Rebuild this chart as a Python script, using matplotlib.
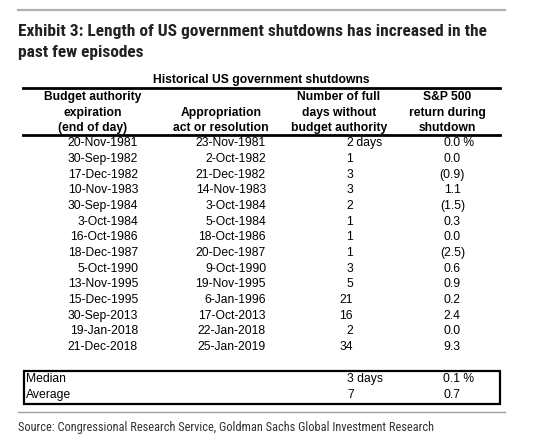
#!/usr/bin/env python
import matplotlib
matplotlib.use("Agg")
import matplotlib.pyplot as plt
from matplotlib.patches import Rectangle

title = "Exhibit 3: Length of US government shutdowns has increased in the\npast few episodes"
table_title = "Historical US government shutdowns"
headers = [
    ["Budget authority", "expiration", "(end of day)"],
    ["", "Appropriation", "act or resolution"],
    ["Number of full", "days without", "budget authority"],
    ["S&P 500", "return during", "shutdown"],
]
expiry = ["20-Nov-1981", "30-Sep-1982", "17-Dec-1982", "10-Nov-1983", "30-Sep-1984",
          "3-Oct-1984", "16-Oct-1986", "18-Dec-1987", "5-Oct-1990", "13-Nov-1995",
          "15-Dec-1995", "30-Sep-2013", "19-Jan-2018", "21-Dec-2018"]
approp = ["23-Nov-1981", "2-Oct-1982", "21-Dec-1982", "14-Nov-1983", "3-Oct-1984",
          "5-Oct-1984", "18-Oct-1986", "20-Dec-1987", "9-Oct-1990", "19-Nov-1995",
          "6-Jan-1996", "17-Oct-2013", "22-Jan-2018", "25-Jan-2019"]
days = [2, 1, 3, 3, 2, 1, 1, 1, 3, 5, 21, 16, 2, 34]
spx_ret = [0.0, 0.0, -0.9, 1.1, -1.5, 0.3, 0.0, -2.5, 0.6, 0.9, 0.2, 2.4, 0.0, 9.3]
summary_labels = ["Median", "Average"]
summary_days = [3, 7]
summary_ret = [0.1, 0.7]
source = "Source: Congressional Research Service, Goldman Sachs Global Investment Research"

narrow = ["Roboto Condensed", "DejaVu Sans"]
arial = ["Liberation Sans", "DejaVu Sans"]
fs = 8.7

fig = plt.figure(figsize=(5.45, 4.44), dpi=100)
ax = fig.add_axes([0, 0, 1, 1])
ax.set_xlim(0, 545)
ax.set_ylim(444, 0)
ax.axis("off")

# rules
ax.plot([18, 505], [10, 10], color="#b0b0b0", lw=1.6)
ax.plot([23, 500], [88, 88], color="black", lw=2)
ax.plot([23, 500], [135, 135], color="black", lw=2)
ax.plot([18, 505], [412, 412], color="#a0a0a0", lw=1)

ax.text(18, 42, title, family=narrow, fontweight="bold", fontsize=12.5,
        color="#222222", va="center", ha="left", linespacing=1.5)
ax.text(261, 80, table_title, family=arial, fontweight="bold", fontsize=fs,
        ha="center", va="center")

col_centers = [93, 221, 339, 447]
for cx, lines in zip(col_centers, headers):
    for j, line in enumerate(lines):
        ax.text(cx, 97 + j * 15.5, line, family=arial, fontweight="bold",
                fontsize=fs, ha="center", va="center")

row0, dy = 143.3, 15.67
for i in range(len(expiry)):
    y = row0 + i * dy
    kw = dict(family=arial, fontsize=fs, va="center")
    ax.text(138, y, expiry[i], ha="right", **kw)
    ax.text(266, y, approp[i], ha="right", **kw)
    ax.text(353, y, str(days[i]), ha="right", **kw)
    if i == 0:
        ax.text(353, y, " days", ha="left", **kw)
    r = spx_ret[i]
    if r < 0:
        ax.text(465, y, f"({abs(r):.1f})", ha="right", **kw)
    else:
        ax.text(460.5, y, f"{r:.1f}", ha="right", **kw)
    if i == 0:
        ax.text(460.5, y, " %", ha="left", **kw)

ax.add_patch(Rectangle((23.5, 370.5), 476, 33, fill=False, ec="black", lw=1.6))
for k, lab in enumerate(summary_labels):
    y = 378.5 + k * 16
    kw = dict(family=arial, fontsize=fs, va="center", ha="left")
    ax.text(26, y, lab, **kw)
    ax.text(347, y, f"{summary_days[k]} days" if k == 0 else str(summary_days[k]), **kw)
    ax.text(443, y, f"{summary_ret[k]:.1f} %" if k == 0 else f"{summary_ret[k]:.1f}", **kw)

ax.text(18, 427, source, family=narrow, fontsize=8.9, color="#333333",
        ha="left", va="center")

fig.savefig("out.png", dpi=100)
plt.close(fig)
